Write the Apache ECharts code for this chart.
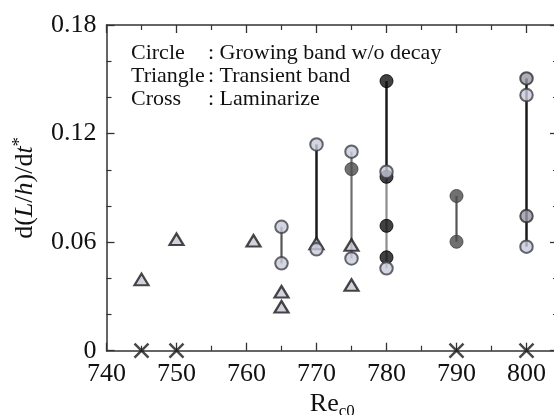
<!DOCTYPE html>
<html>
<head>
<meta charset="utf-8">
<script src="https://cdn.jsdelivr.net/npm/echarts@6/dist/echarts.min.js"></script>
<style>
html,body{margin:0;padding:0;background:#fff;}
#chart{width:554px;height:415px;}
</style>
</head>
<body>
<div id="chart"></div>
<script>
// Re_c0 tick labels
const xTicks = [740, 750, 760, 770, 780, 790, 800];
const yTicks = [0, 0.06, 0.12, 0.18];

// Triangle : Transient band
const triangles = [[745,0.0394],[750,0.0616],[761,0.0608],[765,0.0326],[765,0.0243],[770,0.0593],[775,0.0584],[775,0.0363]];
// Cross : Laminarize
const crosses = [[745,0],[750,0],[790,0],[800,0]];
// Circle : Growing band w/o decay (grouped by fill shade)
const lightCircles = [[765,0.0685],[765,0.0483],[770,0.114],[770,0.056],[775,0.110],[775,0.051],[780,0.0989],[780,0.0455],[800,0.1413],[800,0.0575]];
const blackCircles = [[780,0.149],[780,0.0961],[780,0.069],[780,0.0516]];
const darkCircles = [[775,0.1004],[790,0.0855],[790,0.0602]];
const grayCircles = [[800,0.1505],[800,0.0744]];
// vertical band ranges [Re, top, bottom]
const blackBands = [[770,0.114,0.056],[780,0.149,0.0961],[800,0.1505,0.0575]];
const darkBands = [[765,0.0685,0.0483],[790,0.0855,0.0602]];
const midBands = [[775,0.110,0.051]];
const lightBands = [[780,0.0989,0.0455]];

const serif = 'Liberation Serif';
const chart = echarts.init(document.getElementById('chart'));

function bandSeries(list, color, width) {
  return list.map(b => ({
    type: 'line', data: [[b[0], b[1]], [b[0], b[2]]],
    symbol: 'none', lineStyle: {color: color, width: width},
    z: 1, silent: true, clip: false, animation: false
  }));
}
function scatter(data, opt) {
  return Object.assign({type: 'scatter', data: data, clip: false, animation: false, silent: true}, opt);
}

const axisCommon = {
  type: 'value', min: 740, max: 804.5, interval: 10,
  axisLine: {show: true, onZero: false, lineStyle: {color: '#333', width: 1.5}},
  axisTick: {show: true, inside: true, length: 8, lineStyle: {color: '#333', width: 1.3}},
  minorTick: {show: true, splitNumber: 2, length: 5, lineStyle: {color: '#333', width: 1.2}},
  splitLine: {show: false}, minorSplitLine: {show: false}
};
const yCommon = {
  type: 'value', min: 0, max: 0.18, interval: 0.06,
  axisLine: {show: true, onZero: false, lineStyle: {color: '#333', width: 1.5}},
  axisTick: {show: true, inside: true, length: 8, lineStyle: {color: '#333', width: 1.3}},
  minorTick: {show: true, splitNumber: 3, length: 5, lineStyle: {color: '#333', width: 1.2}},
  splitLine: {show: false}, minorSplitLine: {show: false}
};

const option = {
  backgroundColor: '#fff',
  animation: false,
  grid: {left: 106.5, width: 451.5, top: 25, height: 325.7, containLabel: false, outerBoundsMode: 'none'},
  xAxis: [
    Object.assign({}, axisCommon, {
      position: 'bottom',
      axisLabel: {show: true, fontFamily: serif, fontSize: 26, color: '#111', margin: 10,
        showMaxLabel: false,
        formatter: v => xTicks.includes(Math.round(v)) ? String(Math.round(v)) : ''},
      name: '{a|Re}{b|c0}', nameLocation: 'middle', nameGap: 33,
      nameTextStyle: {fontFamily: serif, color: '#111',
        rich: {a: {fontFamily: serif, fontSize: 26, lineHeight: 30, color: '#111'},
               b: {fontFamily: serif, fontSize: 17, lineHeight: 17, verticalAlign: 'bottom', color: '#111'}}}
    }),
    Object.assign({}, axisCommon, {position: 'top', axisLabel: {show: false}})
  ],
  yAxis: [
    Object.assign({}, yCommon, {
      position: 'left',
      axisLabel: {show: true, fontFamily: serif, fontSize: 26, color: '#111', margin: 10,
        formatter: v => { const t = yTicks.find(k => Math.abs(k - v) < 1e-6); return t === undefined ? '' : (t === 0 ? '0' : t.toFixed(2)); }},
      name: '{i|d(}{it|L}{i|/}{it|h}{i|)/d}{it|t}{sup|*}', nameLocation: 'middle', nameGap: 66, nameRotate: 90,
      nameTextStyle: {fontFamily: serif, color: '#111',
        rich: {i: {fontFamily: serif, fontSize: 26, lineHeight: 30, color: '#111'},
               it: {fontFamily: serif, fontSize: 26, lineHeight: 30, fontStyle: 'italic', color: '#111'},
               sup: {fontFamily: serif, fontSize: 19, lineHeight: 16, verticalAlign: 'top', color: '#111'}}}
    }),
    Object.assign({}, yCommon, {position: 'right', axisLabel: {show: false}})
  ],
  graphic: [
    {type: 'text', left: 131, top: 42, style: {text: 'Circle\nTriangle\nCross', fontFamily: serif, fontSize: 22, lineHeight: 23, fill: '#111'}},
    {type: 'text', left: 208, top: 42, style: {text: ': Growing band w/o decay\n: Transient band\n: Laminarize', fontFamily: serif, fontSize: 22, lineHeight: 23, fill: '#111'}}
  ],
  series: [].concat(
    bandSeries(blackBands, '#1a1a1a', 2.5),
    bandSeries(darkBands, '#555', 2.2),
    bandSeries(midBands, '#6e6e6e', 2.2),
    bandSeries(lightBands, '#8e8e8e', 2.2),
    [
      scatter(crosses, {symbol: 'path://M0,0L10,10M10,0L0,10', symbolSize: 14, z: 3,
        itemStyle: {color: 'transparent', borderColor: '#1a1a1a', borderWidth: 2.5}}),
      scatter(triangles, {symbol: 'triangle', symbolSize: [14, 11.5], z: 3,
        itemStyle: {color: '#c6c7d6', borderColor: '#1a1a1a', borderWidth: 2.2}}),
      scatter(blackCircles, {symbol: 'circle', symbolSize: 13, z: 4,
        itemStyle: {color: '#121212', borderColor: '#000', borderWidth: 1}}),
      scatter(darkCircles, {symbol: 'circle', symbolSize: 13, z: 4,
        itemStyle: {color: '#4c4c4f', borderColor: '#3c3c3c', borderWidth: 1}}),
      scatter(grayCircles, {symbol: 'circle', symbolSize: 12.5, z: 4,
        itemStyle: {color: '#9a9aa6', borderColor: '#2e2e2e', borderWidth: 2}}),
      scatter(lightCircles, {symbol: 'circle', symbolSize: 12.5, z: 5,
        itemStyle: {color: '#c8ccda', borderColor: '#3e4048', borderWidth: 2}})
    ]
  )
};
chart.setOption(option);
</script>
</body>
</html>
